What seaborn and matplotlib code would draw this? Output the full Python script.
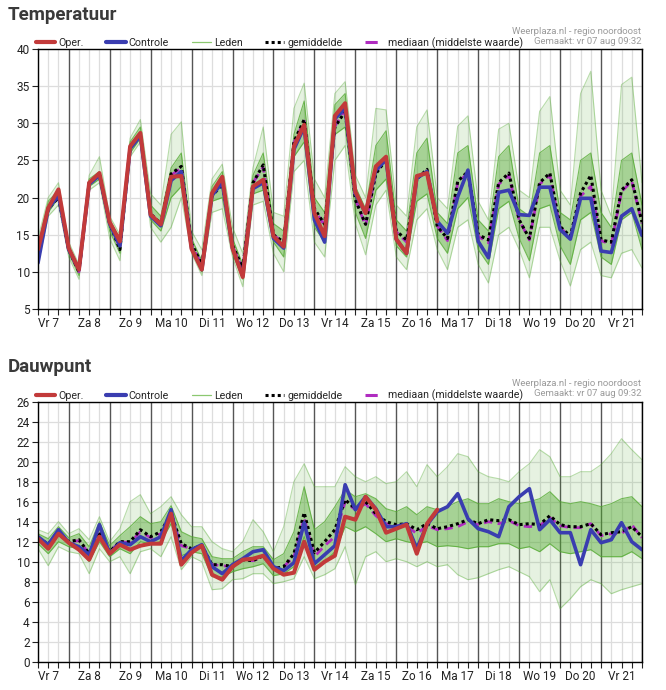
import numpy as np
import pandas as pd
import seaborn as sns
import matplotlib.pyplot as plt
from matplotlib.lines import Line2D

# 6-hourly steps, Fri 7 06h .. Sat 22 00h
hours = np.arange(60)
day_labels = ['Vr 7', 'Za 8', 'Zo 9', 'Ma 10', 'Di 11', 'Wo 12', 'Do 13', 'Vr 14',
              'Za 15', 'Zo 16', 'Ma 17', 'Di 18', 'Wo 19', 'Do 20', 'Vr 21']

# ---- Temperatuur ----
t_oper = [13, 18.6, 21.1, 13.2, 10.3, 22, 23.3, 16.7, 14.1, 26.9, 28.7, 17.7, 16.4, 22.8, 22.9,
          13.1, 10.3, 20.6, 22.8, 13.2, 9.3, 21.5, 22.4, 14.8, 13.4, 26.9, 29.8, 17.9, 14.8, 31,
          32.7, 20.8, 17.9, 24.2, 25.5, 14.4, 12.5, 22.9, 23.3, 16.8]
t_ctrl = [11.2, 18.5, 20.3, 13, 10.3, 21.8, 23, 16.5, 13.5, 26.6, 28.3, 17.5, 16.2, 22.3, 23.5,
          13.2, 10.3, 20.3, 22, 13.2, 9.5, 21.2, 22, 14.5, 13.2, 26.5, 29.5, 17, 14, 30.6,
          32, 20.5, 17.9, 23.7, 25.1, 14.4, 12.5, 22.6, 23.5, 16.8, 15.2, 20.1, 23.7, 14.1, 11.9,
          20.7, 21, 17.7, 17.6, 21.4, 21.4, 15.7, 14.4, 19.9, 19.9, 12.8, 12.6, 17.5, 18.5, 14.9]
t_mean = [12.5, 18.5, 20, 13, 10, 22, 23, 16.5, 13, 26.8, 28.5, 17.8, 16.5, 23.2, 24.2,
          13.8, 11, 20.2, 21.8, 13.6, 10.5, 22, 24.4, 15, 14, 27.5, 30.5, 18.5, 16.4, 29.5,
          31.6, 19.7, 16.4, 23.2, 25.1, 15.5, 14.3, 22.5, 23.8, 16.1, 14.5, 22.2, 23.5, 15, 14.3,
          22, 23.3, 17, 14.5, 22, 23.3, 16.1, 14.8, 20.6, 23, 14.3, 14, 21, 22.4, 16.7]
t_median = [12.5, 18.5, 20.1, 13, 10, 22, 23, 16.6, 13.2, 26.8, 28.6, 17.8, 16.4, 23, 24,
            13.7, 10.9, 20.3, 21.9, 13.5, 10.4, 22, 24.1, 15, 13.9, 27.4, 30.3, 18.4, 16.2, 29.6,
            31.8, 19.8, 16.2, 23.4, 25.2, 15.4, 14, 22.6, 23.6, 16.2, 14.2, 22, 23.3, 14.8, 13.9,
            21.8, 23, 17, 14.3, 21.8, 23, 16, 14.6, 20.2, 21.5, 14.2, 13.7, 20.8, 22.2, 16.5]
t_lo = [11, 17.5, 19, 12, 9, 21, 22, 14.5, 11.5, 25.5, 27.5, 16, 14, 16, 20,
        12.5, 9.5, 18, 18.5, 12, 8, 19, 19.5, 12.5, 10, 23.5, 25, 14, 12, 25,
        27, 16.5, 12.3, 19, 21, 12, 10.3, 17, 18.5, 13, 10.3, 16, 17, 11, 8.5,
        15, 16, 13, 9.2, 16, 16, 11.5, 8.1, 13, 14, 9.5, 9.2, 12.5, 13, 10.5]
t_q1 = [12, 18, 20, 12.5, 9.5, 21.5, 22.5, 15.5, 12.5, 26, 28, 17, 15.5, 20, 21.5,
        13, 10, 19.5, 20, 12.5, 9, 20.5, 21, 14, 12, 25.5, 27.5, 16, 14, 28.5,
        29.5, 18, 14.5, 21, 22.5, 13.5, 12, 19.5, 20.5, 14.5, 12.5, 18.5, 20, 13, 11,
        18.5, 19.5, 14.5, 11.5, 18.5, 19, 13.5, 11, 17, 18, 12, 11, 17, 18, 13]
t_q3 = [13.5, 19.5, 21, 13.5, 10.5, 22.5, 23.5, 17, 14.5, 27.5, 29.5, 19, 17.5, 24, 26,
        14.5, 11.5, 21.5, 23.5, 14.5, 11, 23, 26, 16.5, 15.5, 28.5, 33, 20, 18, 32.5,
        34, 21.5, 18.5, 27, 29, 17, 15.5, 26, 28, 18, 16.5, 26, 27, 17, 15.5,
        25.5, 27, 18.5, 17.5, 26, 27, 18, 17, 25, 26, 18, 16, 25, 26, 19]
t_hi = [14.5, 20, 22, 14, 11, 23, 25.5, 17.5, 15, 28, 30.5, 20.5, 19, 28.5, 30.2,
        15.5, 13, 22.5, 24.5, 16, 12.5, 24, 29.5, 18, 17.5, 32, 35.4, 22.5, 20, 34,
        35.6, 23, 20, 32, 31.8, 19, 17.5, 29.5, 31.8, 20, 18.5, 29.6, 31, 19.5, 17,
        29.2, 30, 21, 20, 31.6, 33.6, 21, 19, 34, 37, 21, 17.5, 35.2, 36.2, 22]

# ---- Dauwpunt ----
d_oper = [12.3, 11.3, 12.8, 11.9, 11.2, 10.2, 12.5, 10.8, 11.7, 11.2, 11.6, 11.8, 11.8, 14.8, 9.7,
          10.9, 11.6, 8.7, 8.2, 9.5, 10.2, 10.3, 10.6, 9.3, 8.7, 8.9, 12, 9.2, 10, 10.6,
          14.5, 14.2, 16.5, 15.2, 12.9, 13.3, 13.7, 10.8, 13.8, 15.2]
d_ctrl = [12.5, 11.7, 13.2, 11.9, 11.5, 10.7, 13.7, 10.8, 11.9, 11.7, 12.5, 12, 12.5, 15.2, 10.1,
          11.2, 11.7, 9.5, 8.8, 9.7, 10.3, 11, 11.2, 9.5, 9.1, 9.9, 13.9, 9.8, 10.7, 11.6,
          17.7, 15.2, 16.5, 15.3, 13.5, 13.5, 13.8, 11.3, 13.7, 15, 15.5, 16.8, 14.3, 13.3, 13,
          12.5, 15.5, 16.5, 17.3, 13.2, 14.2, 12.9, 12.9, 9.7, 13.2, 11.9, 12.2, 13.9, 12, 11.2]
d_mean = [12.3, 11.8, 12.8, 12, 12.2, 10.8, 13, 11, 12, 12, 13.2, 12.5, 13, 14.8, 11.8,
          11.3, 11.6, 9.7, 9.7, 9.5, 10.2, 10.1, 10.6, 9.3, 9.5, 10.8, 14.9, 10.9, 12, 13.2,
          16.2, 15.3, 16, 14.8, 14, 13.7, 13.8, 13.2, 13.8, 13.3, 13.5, 13.8, 14.2, 13.8, 14.2,
          14.1, 14.2, 13.7, 13.8, 13.7, 14.6, 13.7, 13.5, 13.5, 13.8, 12.7, 12.9, 13, 13.5, 12.5]
d_median = [12.3, 11.8, 12.7, 12, 12.1, 10.8, 12.8, 11, 12, 11.9, 13, 12.4, 12.8, 14.7, 11.6,
            11.3, 11.5, 9.7, 9.6, 9.5, 10.2, 10.1, 10.5, 9.3, 9.5, 10.5, 14.4, 10.5, 11.6, 12.5,
            16, 15.2, 15.8, 14.6, 13.8, 13.6, 13.6, 12.8, 13.6, 13.2, 13.3, 13.5, 14, 13.7, 14,
            13.8, 14.1, 13.6, 13.5, 13.6, 14.4, 13.6, 13.4, 13.4, 13.8, 12.6, 12.8, 12.8, 13.7, 12.4]
d_lo = [11.3, 9.6, 11.5, 11, 10.8, 8.8, 11.3, 10, 10.5, 8.8, 11, 11.3, 10.5, 12.5, 9.2,
        10.5, 10, 7.2, 7.3, 8.2, 8.3, 8.8, 8.8, 7.8, 8, 8.3, 10.5, 8.3, 8.7, 9.3,
        11.5, 7.7, 10.5, 11, 10, 10.3, 10, 9.5, 10, 9.5, 9.7, 8.7, 8.2, 8.4, 8.8,
        9.2, 9.5, 9, 8.5, 7, 8.2, 5.3, 6.3, 7.5, 8.2, 7.8, 6.8, 7.2, 7.5, 7.8]
d_q1 = [11.8, 10.8, 12, 11.5, 11.3, 10, 12, 10.5, 11.3, 10.8, 12, 11.8, 12, 13.8, 10.6,
        11, 10.8, 8.5, 8.5, 9, 9.3, 9.5, 9.8, 8.6, 8.8, 9.5, 12.5, 9.5, 10, 11,
        13.5, 13, 13.5, 12.8, 12, 12.3, 12, 11.8, 12, 11.5, 11.6, 11.5, 11.3, 11.5, 11.5,
        11.8, 11.8, 11.3, 11.5, 11, 11.8, 11, 10.8, 11, 11.2, 10.5, 10.5, 10.5, 11, 10.3]
d_q3 = [12.8, 12.3, 13.5, 12.4, 12.8, 11.5, 14, 11.6, 12.6, 13.5, 14.5, 13.8, 14, 15.6, 13,
        12.5, 12.3, 10.5, 10.3, 10.3, 11, 11.5, 11.5, 10.2, 10.8, 13, 17.5, 13.2, 14, 15.5,
        17.2, 16.5, 16.8, 16.3, 15.3, 15, 15.5, 14.7, 15.5, 15.2, 15.5, 16, 16.3, 15.8, 15.8,
        16.3, 16, 15.8, 16, 16.3, 17, 16, 15.8, 16, 15.8, 15.5, 15.8, 16.3, 16.5, 15.5]
d_hi = [13.2, 12.8, 14, 12.8, 13.3, 12.2, 14.5, 12, 13.3, 16, 16.7, 14.8, 15.5, 16.5, 14.7,
        13.5, 13.5, 12, 11.3, 11, 12, 14.2, 13, 11, 13.5, 18, 19.8, 17.5, 17.5, 17.5,
        19.5, 18.5, 18, 18.5, 17.8, 18, 19, 17.5, 19.7, 18.5, 19.5, 20.8, 20.5, 19, 18.5,
        18.3, 18, 19, 19.8, 21.2, 20.5, 18.5, 18.5, 19, 19, 19.7, 20.8, 22.3, 21.2, 20.2]

RED = '#c23a3a'
BLUE = '#3a3db0'
GREEN = '#4fa82c'
MAGENTA = '#b02cc0'

sns.set_theme(style="white")
plt.rcParams['font.family'] = ['Roboto', 'DejaVu Sans']

fig = plt.figure(figsize=(6.66, 6.9), dpi=100)
ax_t = fig.add_axes([38 / 666, 1 - 309 / 690, 604 / 666, 260 / 690])
ax_d = fig.add_axes([38 / 666, 1 - 661.7 / 690, 604 / 666, 260 / 690])


def draw_panel(ax, lo, q1, q3, hi, mean, median, ctrl, oper, ylim, ystep):
    # grid: light every 6h, dark at midnight
    for i in hours:
        if i % 4 == 3:
            ax.axvline(i, color='#555555', lw=1.0, zorder=1)
        else:
            ax.axvline(i, color='#dddddd', lw=0.9, zorder=0)
    for y in np.arange(ylim[0], ylim[1] + 0.01, ystep):
        ax.axhline(y, color='#dddddd', lw=0.9, zorder=0)

    # ensemble members shown as envelope + dense core
    ax.fill_between(hours, lo, hi, color=GREEN, alpha=0.14, lw=0, zorder=2)
    ax.fill_between(hours, q1, q3, color=GREEN, alpha=0.42, lw=0, zorder=2)
    for arr, a in [(lo, 0.4), (hi, 0.4), (q1, 0.75), (q3, 0.75)]:
        sns.lineplot(x=hours, y=arr, ax=ax, color=GREEN, lw=0.8, alpha=a, zorder=3)

    sns.lineplot(x=hours, y=median, ax=ax, color=MAGENTA, lw=2.0, linestyle=(0, (3, 2)), zorder=4)
    sns.lineplot(x=hours, y=mean, ax=ax, color='black', lw=2.2, linestyle=(0, (1, 1)), zorder=5)
    sns.lineplot(x=hours, y=ctrl, ax=ax, color=BLUE, lw=2.6, zorder=6)
    sns.lineplot(x=hours[:len(oper)], y=oper, ax=ax, color=RED, lw=2.9, zorder=7)

    ax.set_xlim(0, 59)
    ax.set_ylim(*ylim)
    ax.set_yticks(np.arange(ylim[0], ylim[1] + 0.01, ystep))
    ax.set_xticks(hours)
    ax.set_xticklabels([day_labels[(i - 1) // 4] if i % 4 == 1 else '' for i in hours])
    ax.tick_params(axis='both', labelsize=8.5, colors='#222222', length=4, width=0.8,
                   direction='out', bottom=True, left=True, pad=2)
    ax.set_xlabel('')
    ax.set_ylabel('')
    for s in ax.spines.values():
        s.set_color('black')
        s.set_linewidth(1.0)
        s.set_zorder(8)

    handles = [Line2D([], [], color=RED, lw=3),
               Line2D([], [], color=BLUE, lw=3),
               Line2D([], [], color='#8cc870', lw=0.9),
               Line2D([], [], color='black', lw=2.2, linestyle=(0, (1, 1))),
               Line2D([], [], color=MAGENTA, lw=2.2, linestyle=(0, (4, 3)))]
    names = ['Oper.', 'Controle', 'Leden', 'gemiddelde', 'mediaan (middelste waarde)']
    ax.legend(handles, names, ncol=5, loc='lower left', bbox_to_anchor=(-0.005, 0.997),
              frameon=False, fontsize=7.7, handlelength=1.8, handletextpad=0.3,
              columnspacing=2.1, borderaxespad=0, borderpad=0.1)


draw_panel(ax_t, t_lo, t_q1, t_q3, t_hi, t_mean, t_median, t_ctrl, t_oper, (5, 40), 5)
draw_panel(ax_d, d_lo, d_q1, d_q3, d_hi, d_mean, d_median, d_ctrl, d_oper, (0, 26), 2)

for title, ytop, yb in [('Temperatuur', 15, 32), ('Dauwpunt', 367, 384)]:
    fig.text(8 / 666, 1 - ytop / 690, title, fontsize=13.5, fontweight='bold',
             color='#3a3a3a', ha='left', va='center')
    fig.text(641 / 666, 1 - yb / 690, 'Weerplaza.nl - regio noordoost', fontsize=6.8,
             color='#9a9a9a', ha='right', va='center')
    fig.text(641 / 666, 1 - (yb + 10) / 690, 'Gemaakt: vr 07 aug 09:32', fontsize=6.8,
             color='#9a9a9a', ha='right', va='center')

fig.savefig('out.png', dpi=100, facecolor='white')
